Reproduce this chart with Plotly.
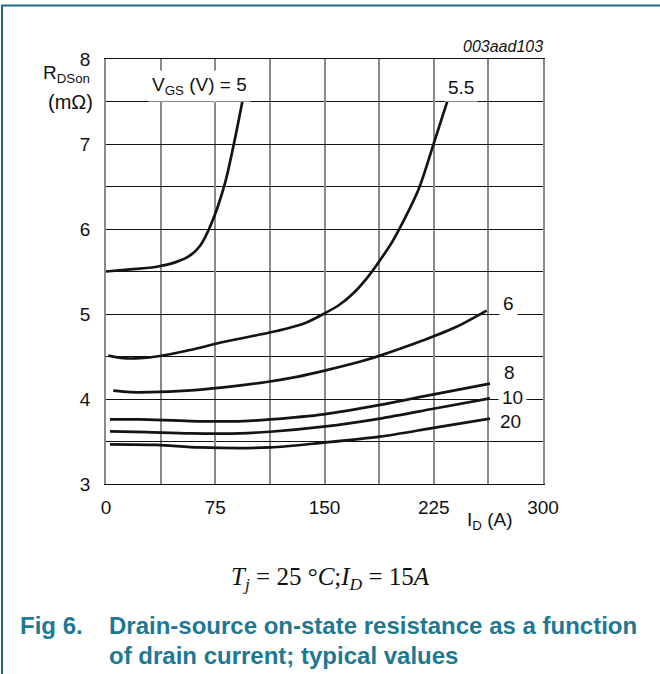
import plotly.graph_objects as go

# Drain current I_D (A) and R_DSon (mOhm), per V_GS curve
id_5 = [0, 16.5, 34.8, 48, 57, 64.5, 72.5, 81.7, 87.4, 94.3]
r_5 = [5.50, 5.525, 5.556, 5.61, 5.68, 5.80, 6.07, 6.54, 6.97, 7.56]

id_55 = [1.6, 11.9, 23.3, 37, 57.7, 80.5, 103.4, 117.2, 135.5, 149.2, 159.5, 169.8, 179, 188, 197.2, 214.4, 224.7, 235]
r_55 = [4.51, 4.48, 4.48, 4.506, 4.576, 4.67, 4.75, 4.80, 4.885, 5.0, 5.1, 5.245, 5.42, 5.63, 5.87, 6.46, 6.99, 7.54]

id_6 = [5, 16.5, 30.2, 55.4, 80.5, 110.3, 130.9, 151.5, 176.6, 188.1, 201.8, 217.8, 240.7, 261.3]
r_6 = [4.098, 4.08, 4.08, 4.098, 4.137, 4.20, 4.26, 4.34, 4.45, 4.51, 4.59, 4.69, 4.85, 5.04]

id_8 = [2.7, 23.3, 57.7, 94.3, 112.6, 149.2, 188.1, 217.8, 263.6]
r_8 = [3.76, 3.76, 3.74, 3.74, 3.76, 3.82, 3.93, 4.03, 4.18]

id_10 = [2.7, 27.9, 57.7, 92, 112.6, 149.2, 188.1, 224.7, 263.6]
r_10 = [3.62, 3.61, 3.596, 3.596, 3.615, 3.675, 3.77, 3.885, 4.008]

id_20 = [2.7, 34.8, 64.5, 112.6, 149.2, 188.1, 224.7, 263.6]
r_20 = [3.467, 3.46, 3.43, 3.43, 3.486, 3.557, 3.66, 3.77]

curves = [(id_5, r_5), (id_55, r_55), (id_6, r_6), (id_8, r_8), (id_10, r_10), (id_20, r_20)]

x_ticks = [0, 75, 150, 225, 300]
y_ticks = [3, 4, 5, 6, 7, 8]

# curve labels: (text, x, y)
curve_labels = [
    ("V<sub>GS</sub> (V) = 5", 64.5, 7.68),
    ("5.5", 244, 7.67),
    ("6", 276, 5.12),
    ("8", 277, 4.31),
    ("10", 279, 4.02),
    ("20", 278, 3.73),
]

TEAL = "#1f7893"
FONT = "Liberation Sans, Arial, sans-serif"

fig = go.Figure()
for xs, ys in curves:
    fig.add_trace(go.Scatter(x=xs, y=ys, mode="lines",
                             line=dict(color="#141414", width=2.7, shape="spline", smoothing=0.8),
                             hoverinfo="skip", showlegend=False))

for txt, xv, yv in curve_labels:
    fig.add_annotation(x=xv, y=yv, text=txt, showarrow=False, xref="x", yref="y",
                       font=dict(family=FONT, size=19, color="#111"), bgcolor="white", borderpad=3)

fig.update_xaxes(range=[0, 300], tickvals=x_ticks, showgrid=True, gridcolor="#8a8a8a", gridwidth=1.5,
                 minor=dict(dtick=37.5, showgrid=True, gridcolor="#8a8a8a", gridwidth=1.5, tick0=0),
                 showline=True, linecolor="#111", linewidth=1.2, mirror=True, ticks="", zeroline=False,
                 tickfont=dict(family=FONT, size=19, color="#111"), ticklabelstandoff=6)
fig.update_yaxes(range=[3, 8], tickvals=y_ticks, showgrid=True, gridcolor="#111", gridwidth=1,
                 minor=dict(dtick=0.5, showgrid=True, gridcolor="#111", gridwidth=1, tick0=3),
                 showline=True, linecolor="#8a8a8a", linewidth=1.5, mirror=True, ticks="", zeroline=False,
                 tickfont=dict(family=FONT, size=19, color="#111"), ticklabelstandoff=10)

W, H = 660, 674
L, R, T, B = 106, 543, 59, 484
pw, ph = R - L, B - T


def px(xp):
    return (xp - L) / pw


def py(yp):
    return (B - yp) / ph


def ann(text, x, y, size=19, xanchor="center", color="#111", family=FONT):
    fig.add_annotation(x=px(x), y=py(y), xref="paper", yref="paper", text=text, showarrow=False,
                       xanchor=xanchor, yanchor="middle", font=dict(family=family, size=size, color=color))


ann("R<sub>DSon</sub>", 66, 74, xanchor="center")
ann("(mΩ)", 70, 102, size=20)
ann("I<sub>D</sub> (A)", 490, 521)
ann("<i>003aad103</i>", 545, 46, size=16, xanchor="right")
ann("<i>T</i><sub><i>j</i></sub> = 25 °<i>C</i>;<i>I</i><sub><i>D</i></sub> = 15<i>A</i>", 330, 578, size=25,
    family="Liberation Serif, Times New Roman, serif")
ann("<b>Fig 6.</b>", 18, 625, size=24, xanchor="left", color=TEAL)
ann("<b>Drain-source on-state resistance as a function</b>", 107, 625, size=24, xanchor="left", color=TEAL)
ann("<b>of drain current; typical values</b>", 107, 655, size=24, xanchor="left", color=TEAL)

# outer frame lines (top and left)
fig.add_shape(type="line", xref="paper", yref="paper", x0=px(1), x1=px(660), y0=py(5.5), y1=py(5.5),
              line=dict(color="#1a6e85", width=2))
fig.add_shape(type="line", xref="paper", yref="paper", x0=px(2), x1=px(2), y0=py(5), y1=py(674),
              line=dict(color="#1a6e85", width=2))

fig.update_layout(width=W, height=H, margin=dict(l=L, r=W - R, t=T, b=H - B),
                  plot_bgcolor="white", paper_bgcolor="white", showlegend=False)

fig.write_html("out.html", config={"displayModeBar": False},
               post_script="document.body.style.margin='0px';")
